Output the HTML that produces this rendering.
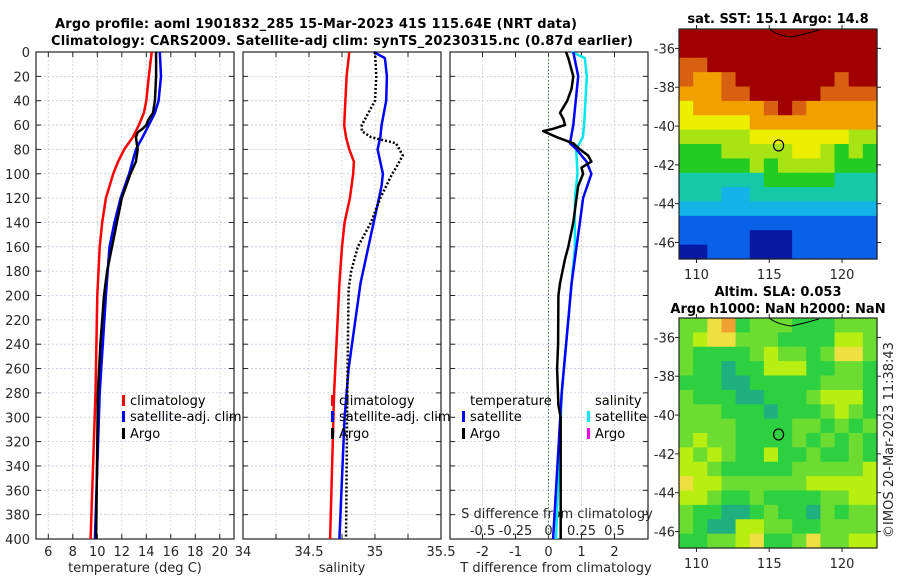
<!DOCTYPE html>
<html><head><meta charset="utf-8">
<style>
html,body{margin:0;padding:0;background:#fff;}
svg{display:block;font-family:"DejaVu Sans","Liberation Sans",sans-serif;}
.tk{font-size:13px;fill:#262626;}
.ttl{font-size:13px;font-weight:bold;fill:#000;}
.lg{font-size:13px;fill:#000;}
</style></head>
<body>
<svg id="chart" width="900" height="580" viewBox="0 0 900 580" xmlns="http://www.w3.org/2000/svg">
<text class="ttl" x="316" y="28" text-anchor="middle" textLength="522">Argo profile: aoml 1901832_285 15-Mar-2023 41S 115.64E (NRT data)</text>
<text class="ttl" x="342" y="45" text-anchor="middle" textLength="582">Climatology: CARS2009. Satellite-adj clim: synTS_20230315.nc (0.87d earlier)</text>
<g id="layer"></g>
</svg>
<script>
// ---- data ----
const depthTicks = [0,20,40,60,80,100,120,140,160,180,200,220,240,260,280,300,320,340,360,380,400];
const tempTicks = [6,8,10,12,14,16,18,20];
const salTicks = [34,34.5,35,35.5];
const salTickLabels = ["34","34.5","35","35.5"];
const tdiffTicks = [-2,-1,0,1,2];
const sdiffTicks = [-0.5,-0.25,0,0.25,0.5];
const sdiffTickLabels = ["-0.5","-0.25","0","0.25","0.5"];

const tClimDepth = [0,20,40,50,60,70,80,90,100,120,140,160,180,200,280,400];
const tClim      = [14.44,14.2,14.0,13.8,13.4,12.9,12.2,11.7,11.3,10.7,10.4,10.2,10.1,10.0,9.85,9.45];
const tSatDepth = [0,20,40,50,60,70,80,100,120,140,160,180,200,280,400];
const tSat      = [15.1,15.2,15.0,14.7,14.2,13.7,13.15,12.6,11.9,11.4,11.0,10.85,10.7,10.2,9.8];
const tArgoDepth = [0,20,30,40,50,55,60,63,66,70,80,90,100,120,140,160,180,200,240,280,320,360,400];
const tArgo      = [14.8,14.8,14.75,14.7,14.55,14.2,14.0,13.7,13.3,13.15,13.3,13.15,12.7,12.0,11.6,11.2,10.8,10.55,10.25,10.05,10.0,9.95,9.9];

const sClimDepth = [0,20,60,70,80,90,100,120,140,160,190,280,400];
const sClim      = [34.805,34.785,34.767,34.78,34.805,34.84,34.835,34.81,34.77,34.75,34.73,34.69,34.66];
const sSatDepth = [0,5,20,40,60,70,80,100,110,120,140,160,190,260,300,400];
const sSat      = [34.99,35.075,35.09,35.085,35.05,35.04,35.02,35.06,35.05,35.03,34.99,34.95,34.89,34.80,34.77,34.73];
const sArgoDepth = [0,20,40,50,60,65,70,75,85,95,100,120,140,160,180,195,280,400];
const sArgo      = [35.0,35.01,35.0,34.95,34.9,34.9,34.97,35.16,35.21,35.16,35.13,35.04,34.97,34.87,34.82,34.8,34.79,34.78];

const dTSatDepth = [0,20,60,75,80,90,100,120,140,160,190,280,400];
const dTSat      = [0.75,0.9,0.75,0.65,0.85,1.15,1.3,1.05,0.95,0.85,0.7,0.4,0.14];
const dSSatDepth = [0,5,20,60,70,80,100,120,160,190,280,400];
const dSSat      = [0.175,0.275,0.29,0.27,0.26,0.21,0.22,0.2,0.2,0.175,0.1,0.057];
const dTArgoDepth = [0,5,20,30,40,50,55,60,63,65,70,75,80,85,90,95,100,110,120,140,160,170,190,200,240,260,290,300,340,380,400];
const dTArgo      = [0.53,0.6,0.75,0.7,0.57,0.35,0.45,0.5,0.15,-0.16,0.25,0.75,0.95,1.2,1.3,1.0,1.05,0.9,0.85,0.75,0.6,0.5,0.35,0.3,0.29,0.26,0.3,0.37,0.37,0.37,0.37];

const lonTicks = [110,115,120];
const latTicks = [-36,-38,-40,-42,-44,-46];
const latTickLabels = ["-36","-38","-40","-42","-44","-46"];
const argoLon = 115.64, argoLat = -41.0;
const sstGrid = [
"99999999999999","99999999999999","88999999999999","87789999999899",
"77788999998888","67777789877777","66666777777777","55555666666655",
"44455555665454","44444545555444","33333344444333","33322333333333",
"22222222222222","11111111111111","11111000111111","00111000111111"];
const slaGrid = [
"22451222111222","23442221111332","21111232212442","21101133311221",
"11100111112221","21110011123331","22211101112321","22221111221212",
"23221111212121","32321131121121","33211111222223","43322222233333",
"33211211112233","21100121102122","21003322112222","11223411242233"];
const sstColors = ["#0818a0","#0a60e8","#12b4e8","#14c8a8","#22cc22","#a8e414","#ecf000","#f0a000","#d86010","#a00000"];
const slaColors = ["#20b080","#2cd040","#6cdc30","#b8ee10","#eee040","#f0a030"];

// ---- helpers ----
const NS="http://www.w3.org/2000/svg";
const layer=document.getElementById('layer');
function mk(tag,attrs,parent){const e=document.createElementNS(NS,tag);for(const k in attrs)e.setAttribute(k,attrs[k]);(parent||layer).appendChild(e);return e;}
const Y0=52, Y1=539;
const yD = d => Y0 + d*(Y1-Y0)/400;
const xT = t => 48.3 + (t-6)*12.25;
const xS = s => 243 + (s-34)*132;
const xDT = v => 548.5 + v*33;
const xDS = v => 548.5 + v*132;
const panels=[{x0:36,x1:234,name:'temperature-panel'},{x0:243,x1:441,name:'salinity-panel'},{x0:450,x1:648,name:'difference-panel'}];

function line(xs,ds,fx,color,w,name,dash){
  const g=mk('polyline',{points:xs.map((v,i)=>fx(v).toFixed(1)+','+yD(ds[i]).toFixed(1)).join(' '),fill:'none',stroke:color,'stroke-width':w,'stroke-linejoin':'round'});
  if(dash) g.setAttribute('stroke-dasharray',dash);
  
  
  return g;
}

panels.forEach((p,pi)=>{
  const g=mk('g',{});
  
  
  depthTicks.forEach(d=>{
    if(d>0&&d<400) mk('line',{x1:p.x0,x2:p.x1,y1:yD(d),y2:yD(d),stroke:'#c4c4e4','stroke-width':0.8,'stroke-dasharray':'2,2'},g);
    mk('line',{x1:p.x0,x2:p.x0+5,y1:yD(d),y2:yD(d),stroke:'#222','stroke-width':1},g);
    mk('line',{x1:p.x1-5,x2:p.x1,y1:yD(d),y2:yD(d),stroke:'#222','stroke-width':1},g);
  });
  let vx=[];
  if(pi==0) vx=tempTicks.map(xT);
  if(pi==1) vx=[34.25,34.5,34.75,35,35.25].map(xS);
  if(pi==2) vx=tdiffTicks.map(xDT);
  vx.forEach(x=>{
    mk('line',{x1:x,x2:x,y1:Y0,y2:Y1,stroke:'#d8c8d8','stroke-width':0.8,'stroke-dasharray':'2,2'},g);
    mk('line',{x1:x,x2:x,y1:Y0,y2:Y0+5,stroke:'#222'},g);
    mk('line',{x1:x,x2:x,y1:Y1-5,y2:Y1,stroke:'#222'},g);
  });
  mk('rect',{x:p.x0,y:Y0,width:p.x1-p.x0,height:Y1-Y0,fill:'none',stroke:'#222','stroke-width':1.2},g);
});
depthTicks.forEach(d=>{
  const t=mk('text',{x:30,y:yD(d)+5,'text-anchor':'end',class:'tk'});t.textContent=d;
  
  
});
tempTicks.forEach(v=>{const t=mk('text',{x:xT(v),y:556,'text-anchor':'middle',class:'tk'});t.textContent=v;
  
  });
salTicks.forEach((v,i)=>{const t=mk('text',{x:xS(v),y:556,'text-anchor':'middle',class:'tk'});t.textContent=salTickLabels[i];
  
  });
tdiffTicks.forEach(v=>{const t=mk('text',{x:xDT(v),y:556,'text-anchor':'middle',class:'tk'});t.textContent=v;
  
  });
sdiffTicks.forEach((v,i)=>{const t=mk('text',{x:xDS(v),y:535,'text-anchor':'middle',class:'tk'});t.textContent=sdiffTickLabels[i];
  
  });
[['temperature (deg C)',135,'x-axis-title-temperature'],['salinity',342,'x-axis-title-salinity'],['T difference from climatology',556,'x-axis-title-t-diff']].forEach(a=>{
  const t=mk('text',{x:a[1],y:572,'text-anchor':'middle',class:'tk'});t.textContent=a[0];
  
  });
{const t=mk('text',{x:557,y:518,'text-anchor':'middle',class:'tk'});t.textContent='S difference from climatology';
  
  }

{const z=mk('line',{x1:xDT(0),x2:xDT(0),y1:Y0,y2:Y1,stroke:'#447744','stroke-width':1,'stroke-dasharray':'1.5,2'});
  
  }

line(tClim,tClimDepth,xT,'#ff0000',2.5,'temp-climatology-line');
line(tSat,tSatDepth,xT,'#0000ff',2.5,'temp-satellite-line');
line(tArgo,tArgoDepth,xT,'#000000',2.5,'temp-argo-line');
line(sClim,sClimDepth,xS,'#ff0000',2.5,'sal-climatology-line');
line(sSat,sSatDepth,xS,'#0000ff',2.5,'sal-satellite-line');
line(sArgo,sArgoDepth,xS,'#000000',2.5,'sal-argo-line','2,2');
line(dSSat,dSSatDepth,xDS,'#00e8f0',2.5,'s-diff-satellite-line');
line(dTSat,dTSatDepth,xDT,'#0000ff',2.5,'t-diff-satellite-line');
line(dTArgo,dTArgoDepth,xDT,'#000000',2.5,'t-diff-argo-line');

function legend(x,y,color,label,name){
  const g=mk('g',{});
  
  
  mk('rect',{x:x,y:y-10,width:3,height:11,fill:color},g);
  const t=mk('text',{x:x+8,y:y,class:'lg'},g);t.textContent=label;
}
legend(122,405,'#ff0000','climatology','legend-temp-climatology');
legend(122,421,'#0000ff','satellite-adj. clim','legend-temp-satellite');
legend(122,438,'#000000','Argo','legend-temp-argo');
legend(331,405,'#ff0000','climatology','legend-sal-climatology');
legend(331,421,'#0000ff','satellite-adj. clim','legend-sal-satellite');
legend(331,438,'#000000','Argo','legend-sal-argo');
{const t=mk('text',{x:470,y:405,class:'lg'});t.textContent='temperature';
  
  }
{const t=mk('text',{x:595,y:405,class:'lg'});t.textContent='salinity';
  
  }
legend(462,421,'#0000ff','satellite','legend-t-satellite');
legend(462,438,'#000000','Argo','legend-t-argo');
legend(587,421,'#00e8f0','satellite','legend-s-satellite');
legend(587,438,'#ff00ff','Argo','legend-s-argo');

function drawMap(top,bottom,grid,colors,name,titles){
  const L=679,R=877,lonMin=108.8,lonMax=122.4,latTop=-35.0,latBot=-46.85;
  const xL = lo => L + (lo-lonMin)*(R-L)/(lonMax-lonMin);
  const yL = la => top + (la-latTop)*(bottom-top)/(latBot-latTop);
  const g=mk('g',{});
  
  
  const rows=grid.length, cols=grid[0].length;
  const cw=(R-L)/cols, ch=(bottom-top)/rows;
  for(let r=0;r<rows;r++)for(let c=0;c<cols;c++){
    mk('rect',{x:(L+c*cw).toFixed(2),y:(top+r*ch).toFixed(2),width:(cw+0.6).toFixed(2),height:(ch+0.6).toFixed(2),fill:colors[+grid[r][c]]},g);
  }
  mk('path',{d:`M${xL(115.0)} ${top} Q${xL(115.5)} ${top+6} ${xL(116.5)} ${top+8} Q${xL(117.5)} ${top+5} ${xL(118.4)} ${top+1}`,fill:'none',stroke:'#000','stroke-width':1},g);
  const circ=mk('ellipse',{cx:xL(argoLon),cy:yL(argoLat),rx:5,ry:5.5,fill:'none',stroke:'#000','stroke-width':1.2},g);
  
  
  mk('rect',{x:L,y:top,width:R-L,height:bottom-top,fill:'none',stroke:'#222','stroke-width':1.2},g);
  latTicks.forEach((la,i)=>{
    const y=yL(la);
    mk('line',{x1:L-4,x2:L,y1:y,y2:y,stroke:'#222'},g);
    mk('line',{x1:R,x2:R+4,y1:y,y2:y,stroke:'#222'},g);
    const t=mk('text',{x:L-4,y:y+5,'text-anchor':'end',class:'tk'},g);t.textContent=latTickLabels[i];
    
    
  });
  lonTicks.forEach(lo=>{
    const x=xL(lo);
    mk('line',{x1:x,x2:x,y1:bottom,y2:bottom+4,stroke:'#222'},g);
    mk('line',{x1:x,x2:x,y1:top-4,y2:top,stroke:'#222'},g);
    const t=mk('text',{x:x,y:bottom+20,'text-anchor':'middle',class:'tk'},g);t.textContent=lo;
    
    
  });
  titles.forEach(tt=>{const t=mk('text',{x:tt[1],y:tt[2],'text-anchor':'middle',class:'ttl'},g);t.textContent=tt[0];
    
    });
}
drawMap(29,259,sstGrid,sstColors,'sst-map',[['sat. SST: 15.1 Argo: 14.8',778,23]]);
drawMap(318,548,slaGrid,slaColors,'sla-map',[['Altim. SLA: 0.053',778,296],['Argo h1000: NaN h2000: NaN',778,313]]);
{const t=mk('text',{x:0,y:0,class:'tk',transform:'translate(893,440) rotate(-90)','text-anchor':'middle'});t.textContent='©IMOS 20-Mar-2023 11:38:43';
  
  }
</script>
</body></html>
